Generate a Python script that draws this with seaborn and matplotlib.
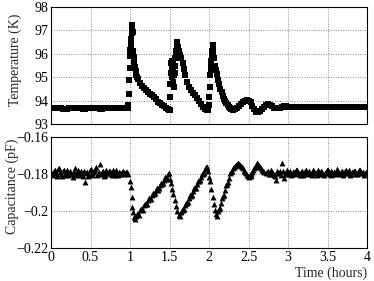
import pandas as pd
import matplotlib
matplotlib.use("Agg")
import matplotlib.pyplot as plt
import seaborn as sns
from matplotlib.ticker import MultipleLocator, FuncFormatter

# Temperature trace (hours, K)
t_base1 = [0.000, 0.025, 0.050, 0.075, 0.100, 0.125, 0.150, 0.175, 0.200, 0.225,
           0.250, 0.275, 0.300, 0.325, 0.350, 0.375, 0.400, 0.425, 0.450, 0.475,
           0.500, 0.525, 0.550, 0.575, 0.600, 0.625, 0.650, 0.675, 0.700, 0.725,
           0.750, 0.775, 0.800, 0.825, 0.850, 0.875, 0.900, 0.925, 0.950, 0.970]
k_base1 = [93.70, 93.69, 93.69, 93.68, 93.67, 93.67, 93.66, 93.66, 93.66, 93.67,
           93.67, 93.68, 93.68, 93.68, 93.67, 93.67, 93.66, 93.66, 93.67, 93.67,
           93.68, 93.68, 93.68, 93.67, 93.67, 93.66, 93.66, 93.67, 93.67, 93.68,
           93.68, 93.68, 93.67, 93.67, 93.67, 93.68, 93.68, 93.68, 93.68, 93.70]

t_pulse1 = [0.980, 0.985, 0.990, 0.995, 1.000, 1.005, 1.010, 1.015, 1.020, 1.025,
            1.030, 1.035, 1.040, 1.045, 1.050, 1.055, 1.060, 1.070, 1.080, 1.090,
            1.100, 1.125, 1.150, 1.175, 1.200, 1.225, 1.250, 1.275, 1.300, 1.325,
            1.350, 1.375, 1.400, 1.425, 1.450, 1.475, 1.490]
k_pulse1 = [93.80, 94.30, 94.86, 95.40, 95.90, 96.15, 96.36, 96.65, 96.90, 97.13,
            97.23, 96.95, 96.10, 95.85, 95.80, 95.60, 95.45, 95.25, 95.10, 95.00,
            94.92, 94.75, 94.62, 94.52, 94.45, 94.37, 94.30, 94.22, 94.15, 94.05,
            93.95, 93.88, 93.82, 93.76, 93.68, 93.62, 93.58]

t_pulse2 = [1.500, 1.505, 1.510, 1.515, 1.520, 1.525, 1.530, 1.535, 1.540, 1.545,
            1.550, 1.555, 1.560, 1.565, 1.570, 1.575, 1.580, 1.585, 1.590, 1.595,
            1.600, 1.610, 1.620, 1.635, 1.650, 1.665, 1.680, 1.700, 1.725, 1.750,
            1.775, 1.800, 1.825, 1.850, 1.875, 1.900, 1.925, 1.950, 1.970, 1.985]
k_pulse2 = [93.60, 94.14, 94.70, 95.20, 95.60, 95.00, 95.40, 95.70, 94.80, 95.30,
            95.60, 95.10, 94.60, 95.50, 95.80, 95.20, 95.90, 96.10, 96.30, 96.50,
            96.40, 96.30, 96.10, 95.95, 95.80, 95.60, 95.35, 95.08, 94.80, 94.60,
            94.45, 94.32, 94.22, 94.10, 93.98, 93.85, 93.72, 93.63, 93.58, 93.60]

t_pulse3 = [2.000, 2.005, 2.010, 2.015, 2.020, 2.025, 2.030, 2.035, 2.040, 2.045,
            2.050, 2.055, 2.060, 2.075, 2.090, 2.100, 2.115, 2.130, 2.145, 2.160,
            2.175, 2.190, 2.205, 2.220, 2.235, 2.250, 2.265, 2.280, 2.300, 2.325,
            2.350, 2.375, 2.400, 2.425, 2.450, 2.475, 2.500, 2.525, 2.550, 2.575,
            2.600, 2.625, 2.650, 2.675, 2.700, 2.725, 2.750, 2.775, 2.800, 2.825,
            2.850, 2.875, 2.900, 2.925, 2.950, 2.975]
k_pulse3 = [93.80, 94.15, 94.56, 95.10, 95.50, 95.30, 95.70, 95.90, 96.10, 96.36,
            96.20, 96.00, 95.80, 95.50, 95.30, 95.15, 94.90, 94.70, 94.50, 94.35,
            94.20, 94.08, 93.98, 93.88, 93.80, 93.73, 93.68, 93.63, 93.60, 93.62,
            93.68, 93.76, 93.85, 93.93, 93.99, 94.02, 94.00, 93.92, 93.78, 93.63,
            93.53, 93.52, 93.56, 93.64, 93.74, 93.82, 93.85, 93.82, 93.76, 93.70,
            93.68, 93.68, 93.70, 93.73, 93.75, 93.75]

t_base2 = [3.000, 3.025, 3.050, 3.075, 3.100, 3.125, 3.150, 3.175, 3.200, 3.225,
           3.250, 3.275, 3.300, 3.325, 3.350, 3.375, 3.400, 3.425, 3.450, 3.475,
           3.500, 3.525, 3.550, 3.575, 3.600, 3.625, 3.650, 3.675, 3.700, 3.725,
           3.750, 3.775, 3.800, 3.825, 3.850, 3.875, 3.900, 3.925, 3.950, 3.975, 4.000]
k_base2 = [93.74, 93.73, 93.72, 93.72, 93.72, 93.73, 93.74, 93.74, 93.73, 93.72,
           93.72, 93.73, 93.73, 93.74, 93.74, 93.73, 93.72, 93.72, 93.73, 93.73,
           93.74, 93.73, 93.73, 93.72, 93.72, 93.73, 93.74, 93.74, 93.73, 93.73,
           93.72, 93.72, 93.73, 93.74, 93.74, 93.73, 93.73, 93.72, 93.73, 93.73, 93.74]

# Capacitance trace (hours, pF)
c_t_base1 = [0.000, 0.025, 0.050, 0.075, 0.100, 0.125, 0.150, 0.175, 0.200, 0.225,
             0.250, 0.275, 0.300, 0.325, 0.350, 0.375, 0.400, 0.425, 0.450, 0.475,
             0.500, 0.525, 0.550, 0.575, 0.600, 0.625, 0.650, 0.675, 0.700, 0.725,
             0.750, 0.775, 0.800, 0.825, 0.850, 0.875, 0.900, 0.925, 0.950, 0.975]
c_pf_base1 = [-0.1790, -0.1805, -0.1780, -0.1812, -0.1768, -0.1798, -0.1785, -0.1808, -0.1776, -0.1801,
              -0.1792, -0.1815, -0.1770, -0.1796, -0.1803, -0.1782, -0.1810, -0.1843, -0.1788, -0.1799,
              -0.1772, -0.1806, -0.1785, -0.1760, -0.1800, -0.1745, -0.1790, -0.1812, -0.1778, -0.1797,
              -0.1786, -0.1808, -0.1793, -0.1781, -0.1804, -0.1795, -0.1787, -0.1802, -0.1791, -0.1798]

# in-between readings of the same flat stretch
c_t_base1b = [0.0125, 0.0375, 0.0625, 0.0875, 0.1125, 0.1375, 0.1625, 0.1875, 0.2125, 0.2375,
              0.2625, 0.2875, 0.3125, 0.3375, 0.3625, 0.3875, 0.4125, 0.4375, 0.4625, 0.4875,
              0.5125, 0.5375, 0.5625, 0.5875, 0.6125, 0.6375, 0.6625, 0.6875, 0.7125, 0.7375,
              0.7625, 0.7875, 0.8125, 0.8375, 0.8625, 0.8875, 0.9125, 0.9375, 0.9625]
c_pf_base1b = [-0.1800, -0.1786, -0.1795, -0.1773, -0.1790, -0.1810, -0.1779, -0.1794, -0.1806, -0.1783,
               -0.1799, -0.1788, -0.1807, -0.1778, -0.1792, -0.1801, -0.1785, -0.1796, -0.1809, -0.1780,
               -0.1794, -0.1790, -0.1772, -0.1803, -0.1787, -0.1798, -0.1782, -0.1805, -0.1793, -0.1786,
               -0.1800, -0.1779, -0.1807, -0.1792, -0.1788, -0.1801, -0.1784, -0.1797, -0.1790]

c_t_ramp1 = [1.000, 1.010, 1.020, 1.030, 1.040, 1.050, 1.060, 1.075, 1.100, 1.125,
             1.150, 1.175, 1.200, 1.225, 1.250, 1.275, 1.300, 1.325, 1.350, 1.375,
             1.400, 1.425, 1.450, 1.475, 1.490]
c_pf_ramp1 = [-0.1840, -0.1870, -0.1926, -0.1980, -0.2005, -0.2035, -0.2042, -0.2025, -0.2018, -0.1995,
              -0.1988, -0.1968, -0.1962, -0.1940, -0.1935, -0.1912, -0.1908, -0.1886, -0.1884, -0.1860,
              -0.1856, -0.1835, -0.1828, -0.1800, -0.1795]
c_t_ramp1b = [1.0875, 1.1125, 1.1375, 1.1625, 1.1875, 1.2125, 1.2375, 1.2625,
              1.2875, 1.3125, 1.3375, 1.3625, 1.3875, 1.4125, 1.4375, 1.4625]
c_pf_ramp1b = [-0.2016, -0.2020, -0.1990, -0.1992, -0.1960, -0.1963, -0.1932, -0.1935,
               -0.1903, -0.1905, -0.1875, -0.1877, -0.1846, -0.1848, -0.1817, -0.1820]

c_t_ramp2 = [1.505, 1.520, 1.535, 1.550, 1.565, 1.580, 1.600, 1.615, 1.630, 1.650,
             1.675, 1.700, 1.725, 1.750, 1.775, 1.800, 1.825, 1.850, 1.875, 1.900,
             1.925, 1.950, 1.970]
c_pf_ramp2 = [-0.1825, -0.1847, -0.1880, -0.1910, -0.1940, -0.1974, -0.2000, -0.2020, -0.2026, -0.2008,
              -0.1994, -0.1968, -0.1956, -0.1930, -0.1918, -0.1892, -0.1878, -0.1852, -0.1840, -0.1814,
              -0.1800, -0.1775, -0.1763]
c_t_ramp2b = [1.6625, 1.6875, 1.7125, 1.7375, 1.7625, 1.7875, 1.8125,
              1.8375, 1.8625, 1.8875, 1.9125, 1.9375, 1.9625]
c_pf_ramp2b = [-0.1993, -0.1990, -0.1955, -0.1951, -0.1916, -0.1912, -0.1877,
               -0.1874, -0.1838, -0.1835, -0.1800, -0.1796, -0.1761]

c_t_ramp3 = [1.985, 2.000, 2.015, 2.030, 2.045, 2.060, 2.075, 2.090, 2.100, 2.125,
             2.150, 2.175, 2.200, 2.225, 2.250, 2.275, 2.300, 2.325, 2.350, 2.375,
             2.400, 2.425, 2.450, 2.475, 2.500, 2.525, 2.550, 2.575, 2.600, 2.625,
             2.650, 2.675, 2.700]
c_pf_ramp3 = [-0.1785, -0.1815, -0.1840, -0.1880, -0.1925, -0.1960, -0.1995, -0.2015, -0.2026, -0.1990,
              -0.1955, -0.1920, -0.1885, -0.1852, -0.1820, -0.1790, -0.1770, -0.1758, -0.1748, -0.1745,
              -0.1755, -0.1770, -0.1790, -0.1805, -0.1815, -0.1810, -0.1790, -0.1770, -0.1752, -0.1745,
              -0.1760, -0.1778, -0.1790]
c_t_ramp3b = [2.1125, 2.1375, 2.1625, 2.1875, 2.2125, 2.2375, 2.2625, 2.2875,
              2.3125, 2.3375, 2.3625, 2.3875, 2.4125, 2.4375, 2.4625, 2.4875,
              2.5125, 2.5375, 2.5625, 2.5875, 2.6125, 2.6375, 2.6625, 2.6875]
c_pf_ramp3b = [-0.2000, -0.1982, -0.1930, -0.1912, -0.1860, -0.1843, -0.1792, -0.1786,
               -0.1763, -0.1751, -0.1742, -0.1752, -0.1760, -0.1783, -0.1795, -0.1812,
               -0.1808, -0.1800, -0.1778, -0.1762, -0.1743, -0.1755, -0.1768, -0.1786]

c_t_base2 = [2.725, 2.750, 2.775, 2.800, 2.825, 2.850, 2.875, 2.900, 2.925, 2.950,
             2.975, 3.000, 3.025, 3.050, 3.075, 3.100, 3.125, 3.150, 3.175, 3.200,
             3.225, 3.250, 3.275, 3.300, 3.325, 3.350, 3.375, 3.400, 3.425, 3.450,
             3.475, 3.500, 3.525, 3.550, 3.575, 3.600, 3.625, 3.650, 3.675, 3.700,
             3.725, 3.750, 3.775, 3.800, 3.825, 3.850, 3.875, 3.900, 3.925, 3.950,
             3.975, 4.000]
c_pf_base2 = [-0.1795, -0.1782, -0.1800, -0.1788, -0.1803, -0.1832, -0.1797, -0.1785, -0.1740, -0.1822,
              -0.1790, -0.1798, -0.1784, -0.1801, -0.1790, -0.1779, -0.1796, -0.1804, -0.1786, -0.1793,
              -0.1781, -0.1800, -0.1792, -0.1808, -0.1783, -0.1795, -0.1776, -0.1799, -0.1788, -0.1805,
              -0.1791, -0.1780, -0.1798, -0.1786, -0.1802, -0.1794, -0.1775, -0.1797, -0.1789, -0.1806,
              -0.1785, -0.1796, -0.1779, -0.1800, -0.1790, -0.1783, -0.1798, -0.1776, -0.1795, -0.1788,
              -0.1797, -0.1786]

c_t_base2b = [2.7375, 2.7625, 2.7875, 2.8125, 2.8375, 2.8625, 2.8875, 2.9125, 2.9375, 2.9625,
              2.9875, 3.0125, 3.0375, 3.0625, 3.0875, 3.1125, 3.1375, 3.1625, 3.1875, 3.2125,
              3.2375, 3.2625, 3.2875, 3.3125, 3.3375, 3.3625, 3.3875, 3.4125, 3.4375, 3.4625,
              3.4875, 3.5125, 3.5375, 3.5625, 3.5875, 3.6125, 3.6375, 3.6625, 3.6875, 3.7125,
              3.7375, 3.7625, 3.7875, 3.8125, 3.8375, 3.8625, 3.8875, 3.9125, 3.9375, 3.9625,
              3.9875]
c_pf_base2b = [-0.1788, -0.1801, -0.1779, -0.1796, -0.1810, -0.1785, -0.1792, -0.1806, -0.1783, -0.1798,
               -0.1781, -0.1794, -0.1803, -0.1787, -0.1799, -0.1776, -0.1793, -0.1788, -0.1804, -0.1782,
               -0.1797, -0.1785, -0.1801, -0.1779, -0.1795, -0.1808, -0.1789, -0.1784, -0.1800, -0.1792,
               -0.1778, -0.1796, -0.1805, -0.1787, -0.1791, -0.1799, -0.1783, -0.1802, -0.1786, -0.1794,
               -0.1780, -0.1797, -0.1806, -0.1789, -0.1784, -0.1800, -0.1791, -0.1779, -0.1796, -0.1803,
               -0.1788]

temp_df = pd.DataFrame({
    'time': t_base1 + t_pulse1 + t_pulse2 + t_pulse3 + t_base2,
    'temp': k_base1 + k_pulse1 + k_pulse2 + k_pulse3 + k_base2,
})
cap_df = pd.DataFrame({
    'time': (c_t_base1 + c_t_base1b + c_t_ramp1 + c_t_ramp1b + c_t_ramp2 + c_t_ramp2b
             + c_t_ramp3 + c_t_ramp3b + c_t_base2 + c_t_base2b),
    'cap': (c_pf_base1 + c_pf_base1b + c_pf_ramp1 + c_pf_ramp1b + c_pf_ramp2 + c_pf_ramp2b
            + c_pf_ramp3 + c_pf_ramp3b + c_pf_base2 + c_pf_base2b),
})

sns.set_theme(style="white")
plt.rcParams['font.family'] = ['Liberation Serif', 'DejaVu Serif']
plt.rcParams['axes.unicode_minus'] = True

fig = plt.figure(figsize=(3.74, 2.81), dpi=100)
fig.set_facecolor('white')
ax_t = fig.add_axes([0.1364, 0.5587, 0.845, 0.4164])
ax_c = fig.add_axes([0.1364, 0.1174, 0.845, 0.395])

sns.scatterplot(data=temp_df, x='time', y='temp', marker='s', s=15,
                color='black', linewidth=0, ax=ax_t, zorder=3)
sns.scatterplot(data=cap_df, x='time', y='cap', marker='^', s=18,
                color='black', linewidth=0, ax=ax_c, zorder=3)

fmt = FuncFormatter(lambda v, p: f"{v:g}".replace('-', '\u2212'))

for ax in (ax_t, ax_c):
    ax.set_xlim(0, 4)
    ax.xaxis.set_major_locator(MultipleLocator(0.5))
    ax.xaxis.set_minor_locator(MultipleLocator(0.1))
    ax.xaxis.set_major_formatter(fmt)
    ax.yaxis.set_major_formatter(fmt)
    ax.grid(True, which='major', linestyle=(0, (1, 1.5)), color='#8c8c8c', linewidth=0.7)
    ax.tick_params(which='both', direction='in', top=False, right=False,
                   colors='black', labelsize=10, pad=2)
    ax.tick_params(which='major', length=4, width=0.7)
    ax.tick_params(which='minor', length=2.2, width=0.6)
    for sp in ax.spines.values():
        sp.set_color('black')
        sp.set_linewidth(0.8)
    ax.set_axisbelow(True)

# Top panel: temperature
ax_t.set_ylim(93, 98)
ax_t.yaxis.set_major_locator(MultipleLocator(1))
ax_t.tick_params(labelbottom=False)
ax_t.set_xlabel('')
ax_t.set_ylabel('Temperature (K)', fontsize=10, loc='top')
ax_t.yaxis.set_label_coords(-0.092, 0.94)

# Bottom panel: capacitance
ax_c.set_ylim(-0.22, -0.16)
ax_c.yaxis.set_major_locator(MultipleLocator(0.02))
ax_c.set_ylabel('Capacitance (pF)', fontsize=10, loc='top')
ax_c.yaxis.set_label_coords(-0.1, 0.99)
ax_c.set_xlabel('Time (hours)', fontsize=10, loc='right', labelpad=2)

plt.savefig('out.png', dpi=100)
